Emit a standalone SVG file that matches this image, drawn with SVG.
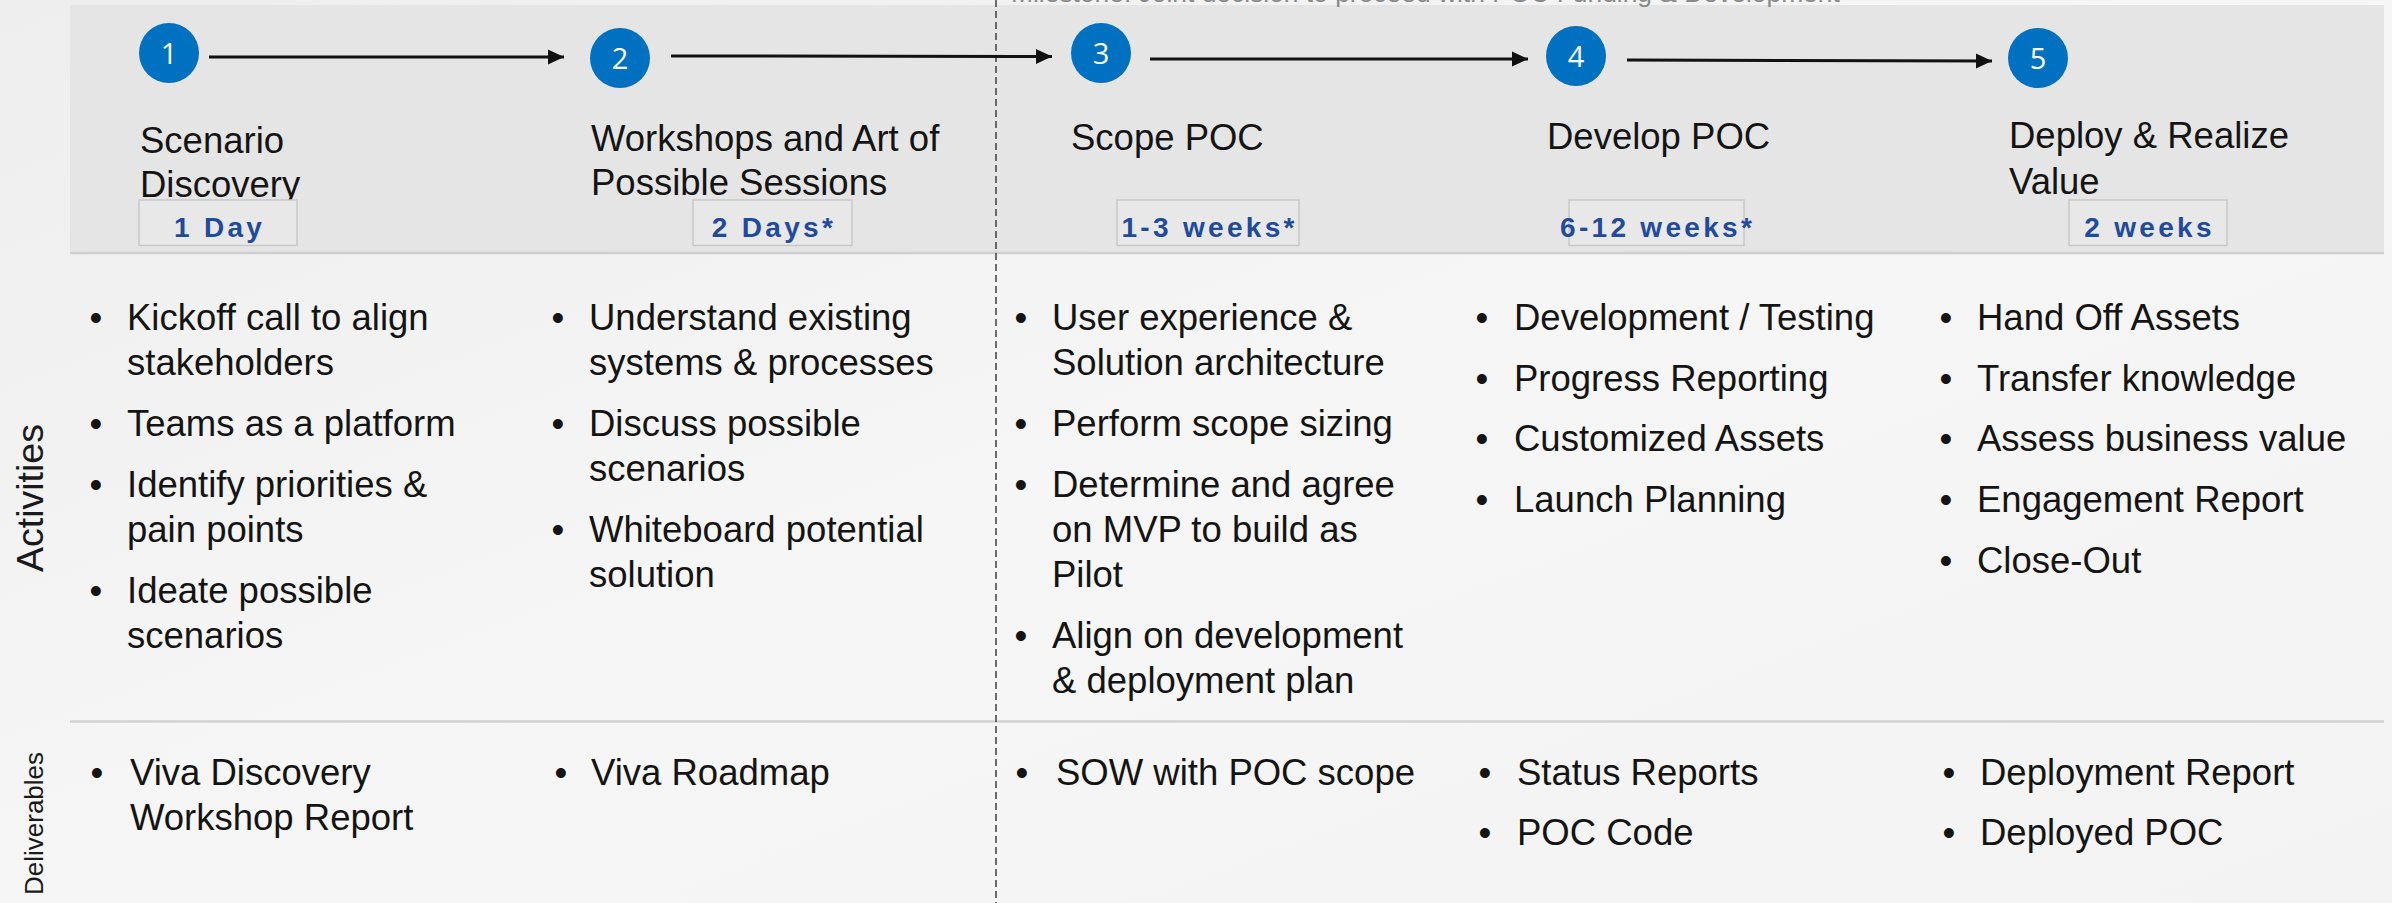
<svg xmlns="http://www.w3.org/2000/svg" width="2392" height="903" viewBox="0 0 2392 903">
  <defs>
    <linearGradient id="bg" x1="0" y1="0" x2="1" y2="1">
      <stop offset="0" stop-color="#eeeeee"/>
      <stop offset="0.5" stop-color="#f6f6f6"/>
      <stop offset="1" stop-color="#f3f3f3"/>
    </linearGradient>
    <marker id="arrow" markerUnits="userSpaceOnUse" markerWidth="18" markerHeight="16" refX="16" refY="8" orient="auto">
      <path d="M0,0.5 L16,8 L0,15.5 z" fill="#111"/>
    </marker>
    <style>
      .t { font-family: "Liberation Sans", Arial, sans-serif; font-size: 36.5px; fill: #141414; }
      .b { font-family: "Liberation Sans", Arial, sans-serif; font-size: 36.5px; fill: #141414; text-anchor: middle; }
      .num { font-family: "Open Sans", "Noto Sans", sans-serif; font-size: 29px; fill: #ffffff; text-anchor: middle; }
      .circ { fill: #0070c0; }
      .badge { fill: #e8e8e8; stroke: #c8c8c8; stroke-width: 1.5; }
      .bt { font-family: "Liberation Sans", Arial, sans-serif; font-size: 28px; font-weight: bold; fill: #1f4a9e; letter-spacing: 3.3px; text-anchor: middle; }
      .conn { stroke: #111; stroke-width: 3; fill: none; marker-end: url(#arrow); }
      .side { font-family: "Liberation Sans", Arial, sans-serif; fill: #1a1a1a; text-anchor: middle; }
    </style>
  </defs>

  <rect x="0" y="0" width="2392" height="903" fill="url(#bg)"/>
  <!-- header band -->
  <rect x="70" y="5" width="2314" height="248" fill="#e5e5e5"/>
  <line x1="70" y1="253" x2="2384" y2="253" stroke="#cfcfcf" stroke-width="2.5"/>
  <line x1="70" y1="721.5" x2="2384" y2="721.5" stroke="#d2d2d2" stroke-width="2.5"/>

  <!-- milestone -->
  <g id="milestone">
    <line x1="996" y1="0" x2="996" y2="903" stroke="#4a4a4a" stroke-width="1.6" stroke-dasharray="7,4"/>
    <text x="1011" y="2" font-family="Liberation Sans, Arial, sans-serif" font-size="26.4" fill="#8a8a8a">Milestone: Joint decision to proceed with POC Funding &amp; Development</text>
  </g>

  <!-- side labels -->
  <text class="side" font-size="37.5" transform="translate(42.5,498) rotate(-90)">Activities</text>
  <text class="side" font-size="26" transform="translate(42.5,823.5) rotate(-90)">Deliverables</text>

  <!-- connectors -->
  <g id="connectors">
    <line class="conn" x1="209" y1="57" x2="564" y2="57"/>
    <line class="conn" x1="671" y1="56" x2="1052" y2="56.5"/>
    <line class="conn" x1="1150" y1="59" x2="1528" y2="59"/>
    <line class="conn" x1="1627" y1="60" x2="1992" y2="61"/>
  </g>

  <!-- step 1 -->
  <g id="step1">
    <circle class="circ" cx="169" cy="53" r="30"/>
    <text class="num" x="169" y="63.5">1</text>
    <text class="t" x="140" y="153">Scenario<tspan x="140" dy="44">Discovery</tspan></text>
    <rect class="badge" x="139" y="200" width="158" height="45.5"/>
    <text class="bt" x="219.6" y="236.5">1 Day</text>
    <g id="act1">
      <text class="b" x="96" y="330">•</text>
      <text class="t" x="127" y="330">Kickoff call to align<tspan x="127" dy="45">stakeholders</tspan></text>
      <text class="b" x="96" y="436">•</text>
      <text class="t" x="127" y="436">Teams as a platform</text>
      <text class="b" x="96" y="497">•</text>
      <text class="t" x="127" y="497">Identify priorities &amp;<tspan x="127" dy="45">pain points</tspan></text>
      <text class="b" x="96" y="602.5">•</text>
      <text class="t" x="127" y="602.5">Ideate possible<tspan x="127" dy="45">scenarios</tspan></text>
    </g>
    <g id="del1">
      <text class="b" x="97" y="785">•</text>
      <text class="t" x="130" y="785">Viva Discovery<tspan x="130" dy="45">Workshop Report</tspan></text>
    </g>
  </g>

  <!-- step 2 -->
  <g id="step2">
    <circle class="circ" cx="620" cy="58" r="30"/>
    <text class="num" x="620" y="68.5">2</text>
    <text class="t" x="591" y="151">Workshops and Art of<tspan x="591" dy="44">Possible Sessions</tspan></text>
    <rect class="badge" x="693" y="200" width="159" height="45.5"/>
    <text class="bt" x="774" y="236.5">2 Days*</text>
    <g id="act2">
      <text class="b" x="558" y="330">•</text>
      <text class="t" x="589" y="330">Understand existing<tspan x="589" dy="45">systems &amp; processes</tspan></text>
      <text class="b" x="558" y="436">•</text>
      <text class="t" x="589" y="436">Discuss possible<tspan x="589" dy="45">scenarios</tspan></text>
      <text class="b" x="558" y="542">•</text>
      <text class="t" x="589" y="542">Whiteboard potential<tspan x="589" dy="45">solution</tspan></text>
    </g>
    <g id="del2">
      <text class="b" x="561" y="785">•</text>
      <text class="t" x="591" y="785">Viva Roadmap</text>
    </g>
  </g>

  <!-- step 3 -->
  <g id="step3">
    <circle class="circ" cx="1101" cy="53" r="30"/>
    <text class="num" x="1101" y="63.5">3</text>
    <text class="t" x="1071" y="150">Scope POC</text>
    <rect class="badge" x="1117" y="200" width="182" height="45.5"/>
    <text class="bt" x="1209.6" y="236.5">1-3 weeks*</text>
    <g id="act3">
      <text class="b" x="1021" y="330">•</text>
      <text class="t" x="1052" y="330">User experience &amp;<tspan x="1052" dy="45">Solution architecture</tspan></text>
      <text class="b" x="1021" y="436">•</text>
      <text class="t" x="1052" y="436">Perform scope sizing</text>
      <text class="b" x="1021" y="497">•</text>
      <text class="t" x="1052" y="497">Determine and agree<tspan x="1052" dy="45">on MVP to build as</tspan><tspan x="1052" dy="45">Pilot</tspan></text>
      <text class="b" x="1021" y="647.5">•</text>
      <text class="t" x="1052" y="647.5">Align on development<tspan x="1052" dy="45">&amp; deployment plan</tspan></text>
    </g>
    <g id="del3">
      <text class="b" x="1022" y="785">•</text>
      <text class="t" x="1056" y="785">SOW with POC scope</text>
    </g>
  </g>

  <!-- step 4 -->
  <g id="step4">
    <circle class="circ" cx="1576" cy="56" r="30"/>
    <text class="num" x="1576" y="66.5">4</text>
    <text class="t" x="1547" y="149">Develop POC</text>
    <rect class="badge" x="1569" y="200" width="175" height="45.5"/>
    <text class="bt" x="1657.6" y="236.5">6-12 weeks*</text>
    <g id="act4">
      <text class="b" x="1482" y="330">•</text>
      <text class="t" x="1514" y="330">Development / Testing</text>
      <text class="b" x="1482" y="390.7">•</text>
      <text class="t" x="1514" y="390.7">Progress Reporting</text>
      <text class="b" x="1482" y="451.4">•</text>
      <text class="t" x="1514" y="451.4">Customized Assets</text>
      <text class="b" x="1482" y="512.1">•</text>
      <text class="t" x="1514" y="512.1">Launch Planning</text>
    </g>
    <g id="del4">
      <text class="b" x="1485" y="785">•</text>
      <text class="t" x="1517" y="785">Status Reports</text>
      <text class="b" x="1485" y="845">•</text>
      <text class="t" x="1517" y="845">POC Code</text>
    </g>
  </g>

  <!-- step 5 -->
  <g id="step5">
    <circle class="circ" cx="2038" cy="58" r="30"/>
    <text class="num" x="2038" y="68.5">5</text>
    <text class="t" x="2009" y="148">Deploy &amp; Realize<tspan x="2009" dy="46">Value</tspan></text>
    <rect class="badge" x="2069" y="200" width="158" height="45.5"/>
    <text class="bt" x="2149.6" y="236.5">2 weeks</text>
    <g id="act5">
      <text class="b" x="1946" y="330">•</text>
      <text class="t" x="1977" y="330">Hand Off Assets</text>
      <text class="b" x="1946" y="390.7">•</text>
      <text class="t" x="1977" y="390.7">Transfer knowledge</text>
      <text class="b" x="1946" y="451.4">•</text>
      <text class="t" x="1977" y="451.4">Assess business value</text>
      <text class="b" x="1946" y="512.1">•</text>
      <text class="t" x="1977" y="512.1">Engagement Report</text>
      <text class="b" x="1946" y="572.8">•</text>
      <text class="t" x="1977" y="572.8">Close-Out</text>
    </g>
    <g id="del5">
      <text class="b" x="1949" y="785">•</text>
      <text class="t" x="1980" y="785">Deployment Report</text>
      <text class="b" x="1949" y="845">•</text>
      <text class="t" x="1980" y="845">Deployed POC</text>
    </g>
  </g>
</svg>
